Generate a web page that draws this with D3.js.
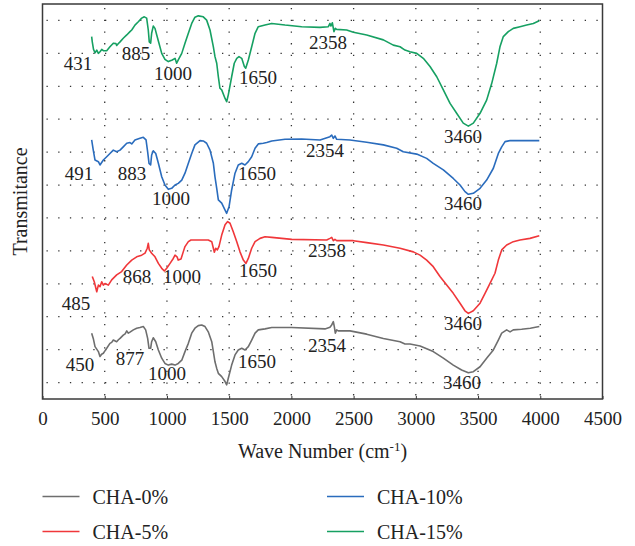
<!DOCTYPE html>
<html>
<head>
<meta charset="utf-8">
<script src="https://cdn.jsdelivr.net/npm/d3@7"></script>
<style>
  html, body { margin: 0; padding: 0; background: #fff; }
  svg { display: block; }
  text { font-family: "Liberation Serif", "DejaVu Serif", serif; fill: #222; }
</style>
</head>
<body>
<svg id="chart" width="635" height="546"></svg>
<script>
// ---- data (wavenumber cm^-1, transmittance in arbitrary offset units) ----
const seriesNames = ["CHA-0%", "CHA-5%", "CHA-10%", "CHA-15%"];
const seriesColors = ["#6e6e6e", "#f0373a", "#2a6cbd", "#16a062"];
const xTicks = [0, 500, 1000, 1500, 2000, 2500, 3000, 3500, 4000, 4500];

const cha0 = [[395,2.00],[408,1.84],[422,1.59],[449,1.44],[462,1.29],[475,1.36],[489,1.39],[503,1.47],[516,1.54],[542,1.69],[556,1.72],[569,1.79],[596,1.74],[610,1.80],[623,1.84],[649,1.94],[664,1.98],[677,2.07],[690,2.00],[703,2.03],[730,2.10],[757,2.15],[783,2.17],[810,2.20],[829,2.10],[845,1.84],[856,1.54],[869,1.54],[877,1.74],[890,1.86],[910,1.74],[931,1.49],[958,1.24],[984,1.08],[1011,1.03],[1038,1.06],[1065,1.03],[1091,1.08],[1119,1.18],[1145,1.44],[1172,1.69],[1199,2.00],[1225,2.15],[1252,2.23],[1279,2.25],[1306,2.20],[1332,2.04],[1360,1.74],[1373,1.44],[1386,1.13],[1400,0.93],[1413,0.78],[1440,0.68],[1467,0.53],[1480,0.43],[1493,0.63],[1520,1.03],[1547,1.34],[1573,1.49],[1601,1.54],[1627,1.49],[1654,1.59],[1681,1.79],[1708,2.00],[1734,2.10],[1788,2.13],[1842,2.17],[2003,2.17],[2270,2.13],[2310,2.18],[2324,2.25],[2337,2.35],[2345,2.20],[2353,2.00],[2364,2.10],[2377,2.07],[2471,2.07],[2605,1.97],[2739,1.84],[2873,1.74],[2913,1.67],[2953,1.67],[3034,1.61],[3140,1.44],[3221,1.24],[3301,1.03],[3368,0.88],[3422,0.80],[3462,0.83],[3516,0.98],[3569,1.24],[3623,1.49],[3663,1.79],[3690,2.00],[3730,2.10],[3757,2.04],[3783,2.10],[3850,2.12],[3920,2.15],[3992,2.20]];

const cha5 = [[400,3.72],[416,3.56],[436,3.26],[449,3.46],[462,3.41],[476,3.56],[489,3.46],[502,3.51],[529,3.46],[556,3.62],[596,3.77],[636,3.87],[677,4.07],[717,4.22],[757,4.32],[797,4.37],[824,4.43],[842,4.58],[850,4.73],[858,4.53],[877,4.43],[904,4.32],[931,4.12],[958,3.97],[979,3.89],[998,3.97],[1025,4.12],[1051,4.27],[1065,4.37],[1081,4.32],[1091,4.22],[1113,4.25],[1131,4.47],[1145,4.63],[1172,4.78],[1193,4.83],[1252,4.83],[1332,4.83],[1360,4.78],[1373,4.58],[1381,4.46],[1392,4.58],[1405,4.53],[1418,4.63],[1440,4.98],[1467,5.29],[1488,5.39],[1507,5.34],[1533,5.08],[1561,4.78],[1587,4.47],[1614,4.22],[1635,4.12],[1654,4.27],[1681,4.58],[1708,4.78],[1748,4.88],[1788,4.93],[1842,4.91],[2003,4.85],[2284,4.83],[2310,4.88],[2324,4.91],[2337,4.81],[2350,4.85],[2364,4.81],[2498,4.81],[2605,4.75],[2739,4.68],[2873,4.58],[2980,4.47],[3034,4.37],[3087,4.22],[3140,4.02],[3194,3.72],[3248,3.46],[3301,3.21],[3355,2.91],[3395,2.68],[3422,2.60],[3462,2.68],[3516,2.91],[3556,3.21],[3596,3.51],[3636,3.82],[3663,4.22],[3690,4.53],[3730,4.68],[3783,4.78],[3837,4.83],[3917,4.88],[3992,4.96]];

const cha10 = [[395,7.87],[408,7.56],[422,7.26],[449,7.21],[462,7.11],[489,7.26],[516,7.36],[542,7.46],[569,7.56],[596,7.51],[623,7.56],[649,7.66],[677,7.77],[703,7.79],[717,7.75],[743,7.87],[783,7.92],[810,7.95],[832,7.87],[845,7.51],[856,7.16],[869,7.11],[877,7.41],[890,7.54],[910,7.46],[931,7.16],[958,6.75],[984,6.50],[1011,6.37],[1038,6.40],[1065,6.50],[1091,6.55],[1119,6.65],[1145,6.86],[1172,7.16],[1199,7.46],[1225,7.72],[1266,7.85],[1292,7.84],[1319,7.77],[1346,7.56],[1373,7.16],[1386,6.75],[1400,6.40],[1413,6.05],[1440,5.95],[1467,5.74],[1480,5.64],[1499,5.84],[1520,6.35],[1547,6.86],[1573,7.11],[1601,7.16],[1627,7.11],[1654,7.21],[1681,7.36],[1708,7.62],[1734,7.75],[1774,7.77],[1802,7.79],[1842,7.84],[1949,7.89],[2083,7.90],[2230,7.87],[2310,7.97],[2324,8.02],[2337,7.92],[2350,7.99],[2364,7.89],[2471,7.87],[2605,7.80],[2739,7.72],[2846,7.62],[2899,7.51],[3007,7.44],[3087,7.31],[3140,7.16],[3221,6.96],[3301,6.70],[3355,6.50],[3395,6.30],[3422,6.22],[3462,6.25],[3516,6.40],[3569,6.65],[3623,7.01],[3663,7.46],[3690,7.66],[3717,7.82],[3757,7.85],[3992,7.85]];

const cha15 = [[395,11.01],[400,10.85],[410,10.62],[422,10.52],[436,10.60],[449,10.50],[462,10.55],[476,10.62],[489,10.58],[516,10.58],[542,10.70],[569,10.81],[590,10.80],[596,10.74],[610,10.80],[623,10.85],[649,10.96],[677,11.06],[703,11.16],[717,11.21],[743,11.36],[770,11.46],[797,11.57],[818,11.61],[837,11.57],[850,11.21],[858,10.85],[869,10.81],[877,11.11],[890,11.33],[904,11.26],[918,11.06],[936,10.81],[958,10.50],[984,10.32],[1011,10.25],[1043,10.30],[1065,10.35],[1078,10.20],[1091,10.30],[1119,10.50],[1145,10.81],[1172,11.11],[1199,11.41],[1225,11.60],[1252,11.64],[1292,11.61],[1319,11.51],[1346,11.21],[1373,10.70],[1386,10.40],[1400,10.20],[1413,9.79],[1426,9.44],[1440,9.39],[1467,9.13],[1480,9.03],[1493,9.24],[1520,9.79],[1541,10.20],[1561,10.35],[1579,10.40],[1601,10.35],[1622,10.10],[1633,10.05],[1654,10.30],[1681,10.70],[1708,11.11],[1734,11.31],[1788,11.36],[1842,11.41],[1949,11.36],[2083,11.31],[2230,11.29],[2297,11.31],[2310,11.41],[2318,11.33],[2329,11.43],[2342,11.16],[2353,11.26],[2364,11.23],[2444,11.21],[2498,11.14],[2605,11.06],[2739,10.91],[2819,10.75],[2873,10.70],[2913,10.60],[2953,10.55],[3007,10.50],[3060,10.35],[3114,10.10],[3168,9.79],[3221,9.39],[3275,8.98],[3328,8.68],[3381,8.38],[3422,8.29],[3462,8.38],[3516,8.68],[3569,9.08],[3610,9.59],[3650,10.20],[3676,10.70],[3703,11.01],[3743,11.16],[3783,11.26],[3837,11.31],[3891,11.36],[3944,11.41],[3992,11.49]];

// peak annotations: [label, wavenumber position, transmittance position]
const notes0 = [["450",301,0.85],["877",703,1.03],["1000",1000,0.58],["1650",1724,0.94],["2354",2286,1.43],["3460",3371,0.30]];
const notes5 = [["485",269,2.70],["868",759,3.52],["1000",1121,3.52],["1650",1732,3.71],["2358",2286,4.31],["3460",3379,2.10]];
const notes10 = [["491",293,6.65],["883",719,6.65],["1000",1033,5.89],["1650",1724,6.65],["2354",2270,7.35],["3460",3379,5.74]];
const notes15 = [["431",285,9.99],["885",751,10.30],["1000",1049,9.69],["1650",1732,9.57],["2358",2294,10.63],["3460",3379,7.78]];

const allSeries = [cha0, cha5, cha10, cha15];
const allNotes = [notes0, notes5, notes10, notes15];

// ---- layout ----
const svg = d3.select("#chart");
const x = d3.scaleLinear().domain([0, 4500]).range([42.5, 602.5]);
const y = d3.scaleLinear().domain([0, 12]).range([399, 4]);

// dotted grid
const grid = svg.append("g");
grid.selectAll("line.v").data(xTicks.slice(1, -1)).join("line")
  .attr("x1", d => x(d)).attr("x2", d => x(d))
  .attr("y1", y(12)).attr("y2", y(0))
  .attr("stroke", "#333").attr("stroke-width", 1.3)
  .attr("stroke-dasharray", "1.3,10.4").attr("stroke-dashoffset", -4);
grid.selectAll("line.h").data(d3.range(0.5, 12, 1)).join("line")
  .attr("x1", x(0)).attr("x2", x(4500))
  .attr("y1", d => y(d)).attr("y2", d => y(d))
  .attr("stroke", "#333").attr("stroke-width", 1.3)
  .attr("stroke-dasharray", "1.3,10.4").attr("stroke-dashoffset", -4);

// x axis
const xAxis = d3.axisBottom(x).tickValues(xTicks).tickFormat(d3.format("d"))
  .tickSizeInner(-3).tickSizeOuter(0).tickPadding(13);
const gx = svg.append("g").attr("transform", `translate(0,${y(0)})`).call(xAxis);
gx.select(".domain").remove();
gx.selectAll(".tick line").attr("stroke", "#333");
gx.selectAll(".tick text").style("font-family", "'Liberation Serif', serif").style("font-size", "19px").attr("fill", "#222");

// frame
svg.append("rect")
  .attr("x", x(0)).attr("y", y(12))
  .attr("width", x(4500) - x(0)).attr("height", y(0) - y(12))
  .attr("fill", "none").attr("stroke", "#3a3a3a").attr("stroke-width", 1.5);

// lines
const line = d3.line().x(d => x(d[0])).y(d => y(d[1]));
svg.append("g").selectAll("path").data(allSeries).join("path")
  .attr("d", line)
  .attr("fill", "none")
  .attr("stroke", (d, i) => seriesColors[i])
  .attr("stroke-width", 1.6)
  .attr("stroke-linejoin", "round");

// annotations
allNotes.forEach(notes => {
  svg.append("g").selectAll("text").data(notes).join("text")
    .attr("x", d => x(d[1])).attr("y", d => y(d[2]))
    .attr("text-anchor", "middle")
    .style("font-size", "19px")
    .text(d => d[0]);
});

// axis titles
const xt = svg.append("text")
  .attr("x", (x(0) + x(4500)) / 2).attr("y", 458)
  .attr("text-anchor", "middle").style("font-size", "20px");
xt.append("tspan").text("Wave Number (cm");
xt.append("tspan").attr("dy", -7).style("font-size", "13px").text("-1");
xt.append("tspan").attr("dy", 7).text(")");

svg.append("text")
  .attr("transform", `translate(27,${(y(0) + y(12)) / 2}) rotate(-90)`)
  .attr("text-anchor", "middle").style("font-size", "20px")
  .text("Transmitance");

// legend
const legendPos = [[42.5, 496.5], [42.5, 531.5], [327, 496.5], [327, 531.5]];
const lg = svg.append("g").selectAll("g").data(seriesNames).join("g")
  .attr("transform", (d, i) => `translate(${legendPos[i][0]},${legendPos[i][1]})`);
lg.append("line").attr("x1", 0).attr("x2", 37).attr("y1", 0).attr("y2", 0)
  .attr("stroke", (d, i) => seriesColors[i]).attr("stroke-width", 1.6);
lg.append("text").attr("x", 50).attr("y", 7).style("font-size", "20px").text(d => d);
</script>
</body>
</html>
